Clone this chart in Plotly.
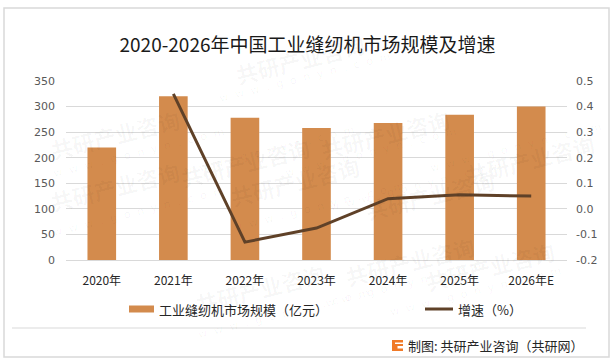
import plotly.graph_objects as go

# ---- data ----
years = ["2020年", "2021年", "2022年", "2023年", "2024年", "2025年", "2026年E"]
market_size = [220, 320, 278, 258, 268, 284, 300]          # 亿元
growth = [None, 0.45, -0.13, -0.075, 0.04, 0.055, 0.05]     # 增速
left_ticks = [0, 50, 100, 150, 200, 250, 300, 350]
right_tickvals = [-0.2, -0.1, 0.0, 0.1, 0.2, 0.3, 0.4, 0.5]
right_ticktext = ["-0.2", "-0.1", "0.0", "0.1", "0.2", "0.3", "0.4", "0.5"]

W, H = 615, 364
L, R, T, B = 66, 567, 81, 260  # plot area in pixels

def px(x):
    return (x - L) / (R - L)

def py(y):
    return (B - y) / (B - T)

BAR_COLOR = "#D38B4D"
LINE_COLOR = "#5F4128"
GRID = "#D9D9D9"
CJK = "Noto Sans CJK SC, Noto Sans, sans-serif"

fig = go.Figure()
fig.add_trace(go.Bar(
    x=years, y=market_size, name="工业缝纫机市场规模（亿元）",
    marker=dict(color=BAR_COLOR, line=dict(width=0)),
    yaxis="y", showlegend=False,
))
fig.add_trace(go.Scatter(
    x=years, y=growth, name="增速（%）", mode="lines",
    line=dict(color=LINE_COLOR, width=3),
    yaxis="y2", showlegend=False, connectgaps=False,
))

shapes = []
annotations = []

# outer border
shapes.append(dict(type="rect", xref="paper", yref="paper",
                   x0=px(4), x1=px(609), y0=py(357), y1=py(8),
                   line=dict(color="#D9D9D9", width=1.5), layer="below"))
# divider above footer
shapes.append(dict(type="line", xref="paper", yref="paper",
                   x0=px(12), x1=px(586), y0=py(328), y1=py(328),
                   line=dict(color="#D9D9D9", width=1.2)))

# watermarks (faint)
wm_positions = [(175, 128), (455, 100), (600, 125), (225, 215), (500, 195),
                (190, 322), (480, 295), (45, 100), (45, 220), (560, 300), (300, 25)]
for (x, y) in wm_positions:
    annotations.append(dict(xref="paper", yref="paper", x=px(x), y=py(y),
                            text="<b>共研产业咨询</b>", showarrow=False, textangle=-14,
                            font=dict(family=CJK, size=22, color="rgba(0,0,0,0.035)")))
    annotations.append(dict(xref="paper", yref="paper", x=px(x + 5), y=py(y + 22),
                            text="w  w  w  .  g  o  n  y  n  .  c  o  m", showarrow=False,
                            textangle=-14,
                            font=dict(family="DejaVu Sans", size=11, color="rgba(0,0,0,0.04)")))

# custom legend
shapes.append(dict(type="rect", xref="paper", yref="paper",
                   x0=px(129), x1=px(154), y0=py(312.5), y1=py(305.5),
                   fillcolor=BAR_COLOR, line=dict(width=0)))
annotations.append(dict(xref="paper", yref="paper", x=px(157), y=py(309.5),
                        xanchor="left", yanchor="middle", showarrow=False,
                        text="工业缝纫机市场规模（亿元）",
                        font=dict(family=CJK, size=13, color="#262626")))
shapes.append(dict(type="line", xref="paper", yref="paper",
                   x0=px(425), x1=px(453), y0=py(309), y1=py(309),
                   line=dict(color=LINE_COLOR, width=3)))
annotations.append(dict(xref="paper", yref="paper", x=px(456), y=py(309.5),
                        xanchor="left", yanchor="middle", showarrow=False,
                        text="增速（%）",
                        font=dict(family=CJK, size=13, color="#262626")))

# footer logo + text
shapes.append(dict(type="rect", xref="paper", yref="paper",
                   x0=px(392), x1=px(403), y0=py(351), y1=py(340),
                   fillcolor="#F07A28", line=dict(width=0)))
shapes.append(dict(type="rect", xref="paper", yref="paper",
                   x0=px(395), x1=px(403), y0=py(344), y1=py(342.5),
                   fillcolor="white", line=dict(width=0)))
shapes.append(dict(type="rect", xref="paper", yref="paper",
                   x0=px(397.5), x1=px(403), y0=py(348.5), y1=py(346),
                   fillcolor="white", line=dict(width=0)))
annotations.append(dict(xref="paper", yref="paper", x=px(406), y=py(345.5),
                        xanchor="left", yanchor="middle", showarrow=False,
                        text="制图: 共研产业咨询（共研网）",
                        font=dict(family=CJK, size=13, color="#262626")))

fig.update_layout(
    width=W, height=H,
    margin=dict(l=L, r=W - R, t=T, b=H - B, pad=0),
    paper_bgcolor="white", plot_bgcolor="rgba(0,0,0,0)",
    title=dict(text="2020-2026年中国工业缝纫机市场规模及增速",
               x=0.5, xref="container", xanchor="center",
               y=1 - 45 / H, yref="container", yanchor="middle",
               font=dict(family=CJK, size=19, color="#1a1a1a")),
    bargap=0.6,
    showlegend=False,
    xaxis=dict(showgrid=False, showline=True, linecolor=GRID, linewidth=1,
               ticks="", tickfont=dict(family=CJK, size=12, color="#262626"),
               ticklabelstandoff=10),
    yaxis=dict(range=[0, 350], tickvals=left_ticks, showgrid=True,
               gridcolor=GRID, gridwidth=1, zeroline=False, showline=False,
               ticks="", ticklabelstandoff=10,
               tickfont=dict(family="DejaVu Sans, sans-serif", size=11, color="#595959")),
    yaxis2=dict(range=[-0.2, 0.5], overlaying="y", side="right",
                tickvals=right_tickvals, ticktext=right_ticktext,
                showgrid=False, zeroline=False, showline=False, ticks="",
                ticklabelstandoff=8,
                tickfont=dict(family="DejaVu Sans, sans-serif", size=11, color="#595959")),
    shapes=shapes,
    annotations=annotations,
)

fig.write_html("out.html",
               config={"displayModeBar": False},
               post_script="document.body.style.margin='0';document.body.style.overflow='hidden';")
